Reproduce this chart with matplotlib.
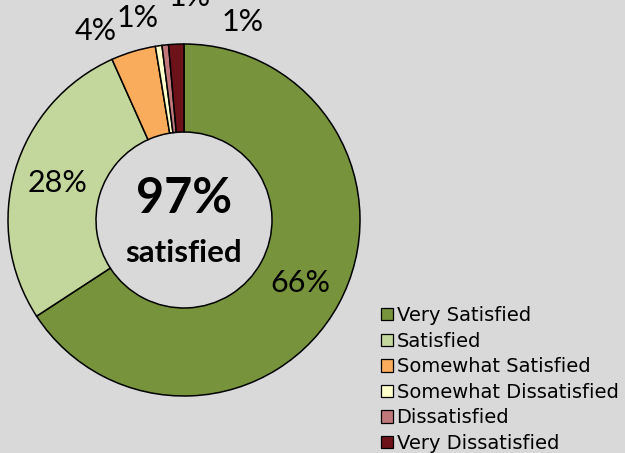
import matplotlib
matplotlib.use("Agg")
import matplotlib.pyplot as plt
from matplotlib.patches import Patch

categories = ["Very Satisfied", "Satisfied", "Somewhat Satisfied",
              "Somewhat Dissatisfied", "Dissatisfied", "Very Dissatisfied"]
shares = [65.8, 27.5, 4.1, 0.6, 0.6, 1.4]
colors = ["#77933C", "#C3D69B", "#F9AC5C", "#FFFFCC", "#C0787A", "#6E1219"]
satisfied_total = 97

# label anchor positions (data units, ring radius = 1)
label_pos = [(0.66, -0.358), (-0.72, 0.21), (-0.5, 1.074),
             (-0.261, 1.148), (0.034, 1.267), (0.335, 1.125)]

bg = "#D9D9D9"
W, H = 625, 453
fig = plt.figure(figsize=(W / 100, H / 100), dpi=100, facecolor=bg)

cx, cy, r = 184, 220, 176
ax = fig.add_axes([(cx - r) / W, (H - cy - r) / H, 2 * r / W, 2 * r / H])
ax.set_facecolor(bg)
ax.axis("off")

wedges, _ = ax.pie(shares, colors=colors, startangle=90, counterclock=False,
                   radius=1.0,
                   wedgeprops=dict(width=0.5, edgecolor="black", linewidth=1.1))
ax.set_xlim(-1, 1)
ax.set_ylim(-1, 1)
ax.set_aspect("equal")

for v, (x, y) in zip(shares, label_pos):
    ax.text(x, y, f"{round(v)}%", ha="center", va="center", fontsize=22,
            family="Lato", color="black", clip_on=False)

ax.text(0, 0.12, f"{satisfied_total}%", ha="center", va="center",
        fontsize=35, fontweight="bold", family="Lato")
ax.text(0, -0.185, "satisfied", ha="center", va="center",
        fontsize=22.5, fontweight="bold", family="Lato")

handles = [Patch(facecolor=c, edgecolor="black", linewidth=0.9) for c in colors]
fig.legend(handles, categories, loc="upper left",
           bbox_to_anchor=(381 / W, 1 - 306 / H), frameon=False,
           prop=dict(family="DejaVu Sans", size=14),
           handlelength=0.6, handleheight=0.6, handletextpad=0.2,
           labelspacing=0.34, borderaxespad=0, borderpad=0)

fig.savefig("out.png", dpi=100, facecolor=bg)
